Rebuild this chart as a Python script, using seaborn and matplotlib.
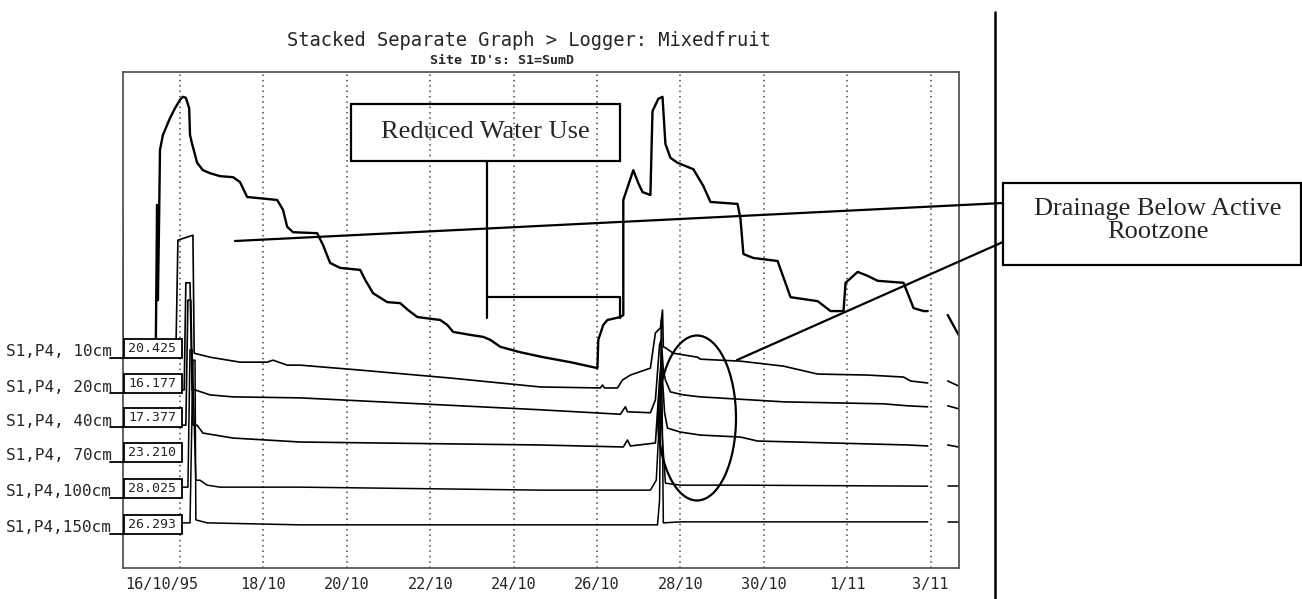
import matplotlib
matplotlib.use("Agg")
import matplotlib.pyplot as plt
import seaborn as sns
import numpy as np
import pandas as pd
from matplotlib.patches import Rectangle, Ellipse
from matplotlib.lines import Line2D
from matplotlib.transforms import ScaledTranslation

nan = float("nan")

# days since 16/10/95 00:00, levels in % of the stacked graph height (nan = logger gap)
day_10cm = [-1.39, -1.39, -1.37, -0.58, -0.55, -0.53, -0.50, -0.48, -0.41, -0.31, -0.24, -0.12,
            0.00, 0.07, 0.14, 0.22, 0.24, 0.29, 0.36, 0.41, 0.55, 0.72, 0.96, 1.27, 1.44, 1.61,
            1.85, 2.33, 2.47, 2.57, 2.71, 3.29, 3.43, 3.60, 3.84, 4.32, 4.44, 4.63, 4.97, 5.28,
            5.47, 5.69, 6.24, 6.41, 6.55, 6.96, 7.27, 7.44, 7.68, 8.16, 8.71, 9.36, 10.01, 10.03,
            10.15, 10.25, 10.56, 10.63, 10.63, 10.87, 10.99, 11.09, 11.28, 11.33, 11.47, 11.57,
            11.64, 11.76, 11.93, 12.31, 12.55, 12.72, 13.37, 13.44, 13.51, 13.75, 14.33, 14.64,
            15.29, 15.60, 15.91, 15.96, 16.25, 16.49, 16.73, 17.35, 17.59, 17.83, 17.93, nan,
            18.41, 18.67]
lvl_10cm = [44.0, 72.2, 45.0, 45.0, 73.2, 54.0, 71.2, 84.3, 87.3, 89.3, 90.7, 92.7,
            94.4, 95.0, 94.8, 92.7, 87.3, 85.5, 83.3, 81.7, 80.2, 79.6, 79.0, 78.8, 77.8, 74.8,
            74.6, 74.2, 72.2, 68.8, 67.7, 67.5, 65.1, 61.5, 60.5, 60.1, 58.1, 55.4, 53.6, 53.4,
            52.0, 50.6, 50.0, 49.0, 47.6, 47.0, 46.6, 46.0, 44.6, 43.5, 42.5, 41.5, 40.3, 46.0,
            49.0, 50.0, 50.6, 51.0, 74.2, 80.2, 77.6, 75.8, 75.2, 92.1, 94.6, 95.0,
            85.5, 82.7, 81.7, 80.4, 77.0, 73.8, 73.4, 70.4, 63.3, 62.5, 61.9, 54.6,
            53.8, 51.8, 51.8, 57.5, 59.7, 58.9, 57.9, 57.5, 52.4, 51.8, 51.8, nan,
            51.0, 47.0]

day_20cm = [-1.39, -0.10, -0.05, 0.31, 0.34, 0.72, 1.44, 2.09, 2.23, 2.57, 2.88, 4.32, 6.48,
            8.64, 10.08, 10.13, 10.18, 10.49, 10.61, 10.80, 11.28, 11.40, 11.52, 11.57, 11.59,
            11.64, 11.83, 12.41, 12.48, 13.44, 14.47, 15.29, 16.49, 17.35, 17.52, 17.93, nan,
            18.41, 18.67]
lvl_20cm = [43.5, 42.7, 66.1, 67.1, 43.3, 42.5, 41.5, 41.5, 41.9, 40.9, 40.9, 39.9, 38.3,
            36.5, 36.3, 36.9, 36.3, 36.3, 37.9, 38.9, 40.3, 47.4, 48.4, 52.0, 44.6,
            44.4, 43.3, 42.5, 42.1, 41.7, 40.7, 39.1, 38.9, 38.5, 37.7, 37.3, nan,
            37.7, 36.7]

day_40cm = [-1.39, 0.10, 0.14, 0.24, 0.29, 0.36, 0.72, 1.27, 2.88, 5.76, 8.64, 10.56, 10.68,
            10.73, 11.28, 11.40, 11.50, 11.54, 11.59, 11.64, 11.76, 12.07, 12.48, 13.68, 14.47,
            16.87, 17.45, 17.93, nan, 18.41, 18.67]
lvl_40cm = [35.9, 35.9, 57.5, 57.5, 35.9, 35.9, 34.9, 34.5, 34.3, 33.1, 31.9, 31.0, 32.5,
            31.5, 31.3, 33.9, 45.0, 46.0, 39.9, 37.9, 35.5, 34.9, 34.5, 33.9, 33.5,
            33.1, 32.7, 32.5, nan, 32.7, 32.1]

day_70cm = [-1.39, 0.14, 0.19, 0.26, 0.31, 0.41, 0.55, 1.27, 2.88, 8.64, 10.63, 10.73, 10.80,
            11.40, 11.50, 11.54, 11.62, 11.69, 12.00, 12.48, 13.44, 13.85, 17.47, 17.93, nan,
            18.41, 18.67]
lvl_70cm = [28.8, 28.8, 54.0, 54.0, 28.8, 28.8, 27.2, 26.2, 25.4, 24.8, 24.4, 25.8, 24.6,
            25.2, 37.9, 41.9, 31.3, 28.2, 27.4, 26.8, 26.4, 25.6, 24.8, 24.6, nan,
            24.8, 24.4]

day_100cm = [-1.39, 0.19, 0.24, 0.29, 0.38, 0.48, 0.65, 0.96, 2.88, 8.64, 11.28, 11.42, 11.52,
             11.57, 11.64, 12.00, 13.44, 17.93, nan, 18.41, 18.67]
lvl_100cm = [16.3, 16.3, 44.0, 44.0, 17.7, 17.7, 16.7, 16.3, 16.3, 15.7, 15.7, 17.7, 33.9,
             25.8, 17.1, 16.7, 16.7, 16.5, nan, 16.5, 16.5]

day_150cm = [-1.39, 0.24, 0.31, 0.36, 0.38, 0.65, 2.88, 8.64, 11.45, 11.50, 11.54, 11.59,
             12.00, 13.44, 17.93, nan, 18.41, 18.67]
lvl_150cm = [9.1, 9.1, 41.9, 41.9, 9.7, 9.1, 8.7, 8.7, 8.7, 13.7, 50.0, 9.1,
             9.3, 9.3, 9.3, nan, 9.3, 9.3]

depth_labels = ["S1,P4, 10cm", "S1,P4, 20cm", "S1,P4, 40cm",
                "S1,P4, 70cm", "S1,P4,100cm", "S1,P4,150cm"]
start_values = ["20.425", "16.177", "17.377", "23.210", "28.025", "26.293"]
tick_days = [0, 2, 4, 6, 8, 10, 12, 14, 16, 18]
tick_labels = ["16/10/95", "18/10", "20/10", "22/10", "24/10",
               "26/10", "28/10", "30/10", "1/11", "3/11"]

W, H = 1302, 599
MONO = "DejaVu Sans Mono"
SERIF = "Liberation Serif"


def fx(x):
    return x / W


def fy(y):
    return 1 - y / H


sns.set_theme(style="white")
plt.rcParams["font.family"] = ["DejaVu Sans"]

fig = plt.figure(figsize=(W / 100, H / 100), dpi=100)
ax = fig.add_axes([fx(123), fy(568), (959 - 123) / W, (568 - 72) / H])

series = [(day_10cm, lvl_10cm, 1.7), (day_20cm, lvl_20cm, 1.2), (day_40cm, lvl_40cm, 1.2),
          (day_70cm, lvl_70cm, 1.2), (day_100cm, lvl_100cm, 1.1), (day_150cm, lvl_150cm, 1.1)]
for days, levels, lw in series:
    df = pd.DataFrame({"day": days, "level": levels})
    df["seg"] = df["level"].isna().cumsum()
    df = df.dropna()
    sns.lineplot(data=df, x="day", y="level", units="seg", estimator=None, sort=False,
                 color="black", linewidth=lw, ax=ax, legend=False)

ax.set_xlim(-1.367, 18.68)
ax.set_ylim(0, 100)
ax.set_yticks([])
ax.set_xticks(tick_days)
ax.set_xticklabels(tick_labels, family=MONO, fontsize=11)
ax.tick_params(axis="x", direction="in", length=4, width=1.2, color="#333", pad=6.5)
ax.grid(True, axis="x", color="#444", linestyle=(0, (1, 2.5)), linewidth=1.1)
ax.set_xlabel("")
ax.set_ylabel("")
for sp in ax.spines.values():
    sp.set_color("#555")
    sp.set_linewidth(1.3)

# first date label sits left of its tick in the original
first = ax.get_xticklabels()[0]
first.set_transform(first.get_transform() + ScaledTranslation(-18 / 100, 0, fig.dpi_scale_trans))

fig.text(fx(529), fy(41), "Stacked Separate Graph > Logger: Mixedfruit",
         family=MONO, fontsize=13.5, ha="center", va="center")
fig.text(fx(502), fy(61), "Site ID's: S1=SumD", family=MONO, fontsize=9.5,
         fontweight="bold", ha="center", va="center")

# channel labels with their start-value boxes
box_tops = [339, 374, 408, 443, 479, 515]
for lab, val, top in zip(depth_labels, start_values, box_tops):
    bottom = top + 18.5
    fig.add_artist(Rectangle((fx(124), fy(bottom)), 58 / W, 18.5 / H, transform=fig.transFigure,
                             facecolor="white", edgecolor="black", linewidth=1.3))
    fig.text(fx(152), fy(top + 9.5), val, family=MONO, fontsize=9.5, ha="center", va="center")
    fig.text(fx(112), fy(top + 13), lab, family=MONO, fontsize=11.5, ha="right", va="center")
    fig.add_artist(Line2D([fx(110), fx(124)], [fy(bottom), fy(bottom)],
                          transform=fig.transFigure, color="black", linewidth=1.3))

# annotations
def fline(x0, y0, x1, y1, lw=1.6):
    fig.add_artist(Line2D([fx(x0), fx(x1)], [fy(y0), fy(y1)], transform=fig.transFigure,
                          color="black", linewidth=lw))


fig.add_artist(Rectangle((fx(351), fy(161)), (620 - 351) / W, (161 - 104) / H,
                         transform=fig.transFigure, fill=False, edgecolor="black", linewidth=1.6))
fig.text(fx(485), fy(132), "Reduced Water Use", family=SERIF, fontsize=19,
         ha="center", va="center")
fline(487, 161, 487, 318)
fline(487, 297, 620, 297)
fline(620, 297, 620, 318)

fig.add_artist(Rectangle((fx(1003), fy(265)), (1301 - 1003) / W, (265 - 183) / H,
                         transform=fig.transFigure, fill=False, edgecolor="black", linewidth=1.6))
fig.text(fx(1158), fy(209), "Drainage Below Active", family=SERIF, fontsize=19,
         ha="center", va="center")
fig.text(fx(1158), fy(232), "Rootzone", family=SERIF, fontsize=19, ha="center", va="center")
fline(235, 241, 1003, 203)
fline(737, 360, 1003, 242)
fig.add_artist(Ellipse((fx(697), fy(418)), 78 / W, 165 / H, transform=fig.transFigure,
                       fill=False, edgecolor="black", linewidth=1.6))

fline(995, 12, 995, 599, lw=1.8)

fig.savefig("out.png", dpi=100, facecolor="white")
